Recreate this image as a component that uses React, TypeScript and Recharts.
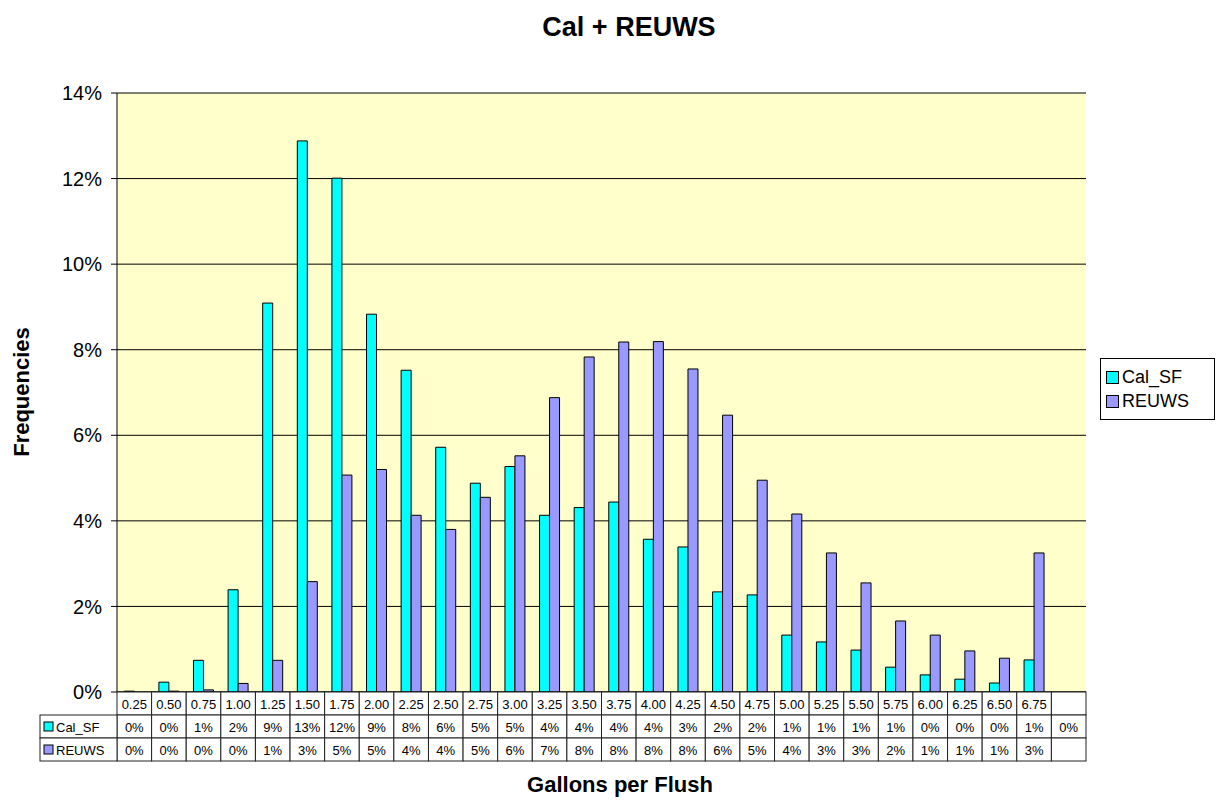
import { BarChart, Bar, XAxis, YAxis, CartesianGrid } from "recharts"

const categories = [
  "0.25", "0.50", "0.75", "1.00", "1.25", "1.50", "1.75", "2.00", "2.25", "2.50",
  "2.75", "3.00", "3.25", "3.50", "3.75", "4.00", "4.25", "4.50", "4.75", "5.00",
  "5.25", "5.50", "5.75", "6.00", "6.25", "6.50", "6.75", "",
]

// percent values
const calSF = [
  0.02, 0.23, 0.74, 2.39, 9.09, 12.88, 12.01, 8.83, 7.52, 5.72,
  4.88, 5.27, 4.13, 4.31, 4.44, 3.57, 3.39, 2.34, 2.27, 1.33,
  1.17, 0.98, 0.58, 0.4, 0.3, 0.21, 0.75, 0,
]

const reuws = [
  0, 0.02, 0.05, 0.2, 0.74, 2.58, 5.07, 5.2, 4.13, 3.8,
  4.55, 5.52, 6.88, 7.83, 8.18, 8.19, 7.55, 6.47, 4.95, 4.16,
  3.25, 2.55, 1.66, 1.33, 0.96, 0.79, 3.25, null,
]

const yTicks = [0, 2, 4, 6, 8, 10, 12, 14]

const data = categories.map((c, i) => ({ name: c, Cal_SF: calSF[i], REUWS: reuws[i] }))

const FONT = "Liberation Sans, Arial, sans-serif"
const CYAN = "#00FFFF"
const LAVENDER = "#9999FF"

const series = [
  { key: "Cal_SF", color: CYAN },
  { key: "REUWS", color: LAVENDER },
]

const W = 1221
const H = 800
const PLOT_LEFT = 117
const PLOT_RIGHT = 1086
const TABLE_TOP = 692
const ROW_H = 23
const HEAD_LEFT = 40

const pct = (v: number | null) => (v === null || v === undefined ? "" : `${Math.round(v)}%`)

function TableTick(props: any) {
  const { x, payload } = props
  const index = props.index ?? payload.index ?? 0
  const bw = (PLOT_RIGHT - PLOT_LEFT) / categories.length
  const left = x - bw / 2
  const rows = [payload.value, pct(calSF[index]), pct(reuws[index])]
  return (
    <g fontFamily={FONT} fontSize={13} fill="#000">
      {rows.map((t, r) => (
        <g key={r}>
          <rect x={left} y={TABLE_TOP + r * ROW_H} width={bw} height={ROW_H} fill="#fff" stroke="#222" strokeWidth={1} />
          <text x={x} y={TABLE_TOP + r * ROW_H + ROW_H / 2 + 1} textAnchor="middle" dominantBaseline="central" fill="#000">
            {t}
          </text>
        </g>
      ))}
      {index === 0 &&
        series.map((s, r) => {
          const top = TABLE_TOP + (r + 1) * ROW_H
          return (
            <g key={s.key}>
              <rect x={HEAD_LEFT} y={top} width={left - HEAD_LEFT} height={ROW_H} fill="#fff" stroke="#222" strokeWidth={1} />
              <rect x={HEAD_LEFT + 4} y={top + 7} width={9} height={9} fill={s.color} stroke="#000" strokeWidth={1} />
              <text x={HEAD_LEFT + 16} y={top + ROW_H / 2 + 1} dominantBaseline="central" fill="#000">
                {s.key}
              </text>
            </g>
          )
        })}
    </g>
  )
}

export default function App() {
  return (
    <div style={{ position: "absolute", left: 0, top: 0, width: W, height: H, background: "#fff" }}>
      <div
        style={{
          position: "absolute",
          left: 429,
          width: 400,
          top: 12,
          textAlign: "center",
          fontFamily: FONT,
          fontWeight: "bold",
          fontSize: 27,
          color: "#000",
        }}
      >
        Cal + REUWS
      </div>
      <BarChart
        width={W}
        height={H}
        data={data}
        margin={{ top: 93, right: W - PLOT_RIGHT, left: 47, bottom: 40 }}
        barCategoryGap="21%"
        barGap={0}
      >
        <CartesianGrid vertical={false} stroke="#000" fill="#FFFFCC" fillOpacity={1} />
        <XAxis
          dataKey="name"
          interval={0}
          height={68}
          tickLine={false}
          tickSize={0}
          axisLine={{ stroke: "#000" }}
          tick={<TableTick />}
        />
        <YAxis
          width={70}
          domain={[0, 14]}
          ticks={yTicks}
          tickFormatter={(v) => `${v}%`}
          axisLine={{ stroke: "#000" }}
          tickLine={{ stroke: "#000" }}
          tickSize={6}
          tickMargin={9}
          tick={{ fontFamily: FONT, fontSize: 20, fill: "#000" }}
        />
        {series.map((s) => (
          <Bar key={s.key} dataKey={s.key} fill={s.color} stroke="#000" strokeWidth={1} isAnimationActive={false} />
        ))}
      </BarChart>
      <div
        style={{
          position: "absolute",
          left: 1100,
          top: 358,
          width: 108,
          border: "1px solid #000",
          background: "#fff",
          padding: "6px 0 6px 5px",
          fontFamily: FONT,
          fontSize: 18,
          lineHeight: "24px",
          color: "#000",
        }}
      >
        {series.map((s) => (
          <div key={s.key} style={{ display: "flex", alignItems: "center" }}>
            <span
              style={{
                display: "inline-block",
                width: 11,
                height: 11,
                background: s.color,
                border: "1px solid #000",
                marginRight: 3,
              }}
            />
            {s.key}
          </div>
        ))}
      </div>
      <div
        style={{
          position: "absolute",
          left: 420,
          width: 400,
          top: 772,
          textAlign: "center",
          fontFamily: FONT,
          fontWeight: "bold",
          fontSize: 22,
          color: "#000",
        }}
      >
        Gallons per Flush
      </div>
      <div
        style={{
          position: "absolute",
          left: 22,
          top: 392,
          transform: "translate(-50%, -50%) rotate(-90deg)",
          whiteSpace: "nowrap",
          fontFamily: FONT,
          fontWeight: "bold",
          fontSize: 22,
          color: "#000",
        }}
      >
        Frequencies
      </div>
    </div>
  )
}
